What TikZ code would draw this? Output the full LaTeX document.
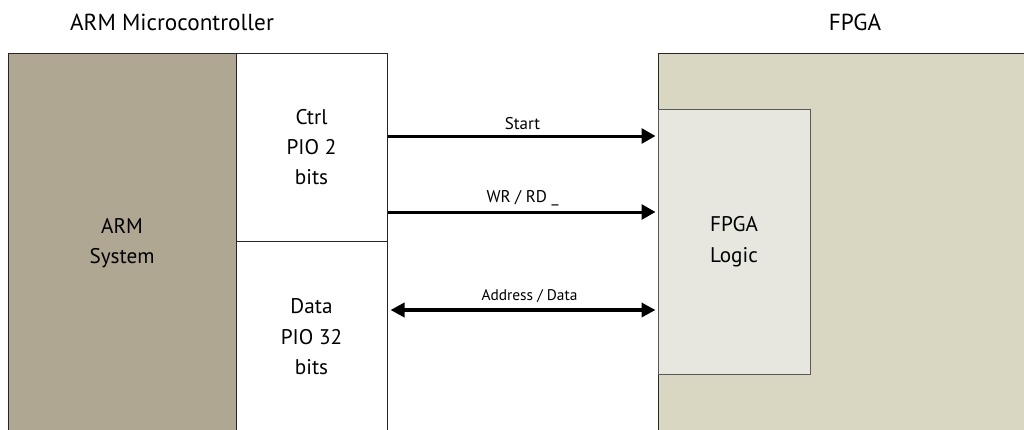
\documentclass[tikz,border=0pt]{standalone}
\usepackage{fontspec}
\setmainfont{PT Sans}
\usetikzlibrary{arrows.meta}
\definecolor{armfill}{RGB}{175,167,146}
\definecolor{fpgafill}{RGB}{217,214,194}
\definecolor{logicfill}{RGB}{231,231,223}
\tikzset{
  block/.style={draw=black!85, line width=0.5pt, align=center, inner sep=0pt,
    font=\fontsize{10.6}{15.2}\selectfont},
  title/.style={font=\fontsize{11.6}{13}\selectfont},
  sig/.style={line width=1.5pt, -{Triangle[length=7pt,width=7.5pt]}, shorten >=1pt},
  bus/.style={line width=2pt, {Triangle[length=7pt,width=7pt]}-{Triangle[length=7pt,width=7pt]},
    shorten >=1pt, shorten <=1.5pt},
  siglabel/.style={font=\fontsize{8.5}{10}\selectfont, above, inner sep=2.5pt},
  buslabel/.style={siglabel, font=\fontsize{7.7}{9}\selectfont}
}
\begin{document}
\begin{tikzpicture}[x=0.5pt,y=-0.5pt]
      \useasboundingbox (0,0) rectangle (1024,429);
      \clip (0,0) rectangle (1024,429);
      \draw
        (172,22) node[title] (armtitle){ARM Microcontroller}
        (855,22) node[title] (fpgatitle){FPGA};
      \node[block, fill=armfill, minimum width=114pt, minimum height=190pt] (arm) at (122,243) {ARM\\System};
      \node[block, fill=white, minimum width=75.5pt, minimum height=94pt] (ctrl) at (311.5,147) {Ctrl\\PIO 2\\bits};
      \node[block, fill=white, minimum width=75.5pt, minimum height=96pt] (data) at (311.5,337) {Data\\PIO 32\\bits};
      \node[block, fill=fpgafill, minimum width=188pt, minimum height=190pt] (fpga) at (846,243) {};
      \node[block, draw=black!65, fill=logicfill, minimum width=76pt, minimum height=132.5pt] (logic) at (734,241.5) {FPGA\\Logic};
      \coordinate (startsig) at ([yshift=5.5pt]ctrl.east);
      \coordinate (wrrdsig) at ([yshift=-32.5pt]ctrl.east);
      \coordinate (adbus) at ([yshift=13.5pt]data.east);
      \begin{scope}
        \draw[sig] (startsig) to node[siglabel]{Start} (startsig -| logic.west);
        \draw[sig] (wrrdsig) to node[siglabel]{WR / RD \_} (wrrdsig -| logic.west);
        \draw[bus] (adbus) to node[buslabel, xshift=3.5pt]{Address / Data} (adbus -| logic.west);
      \end{scope}
    \end{tikzpicture}
\end{document}
